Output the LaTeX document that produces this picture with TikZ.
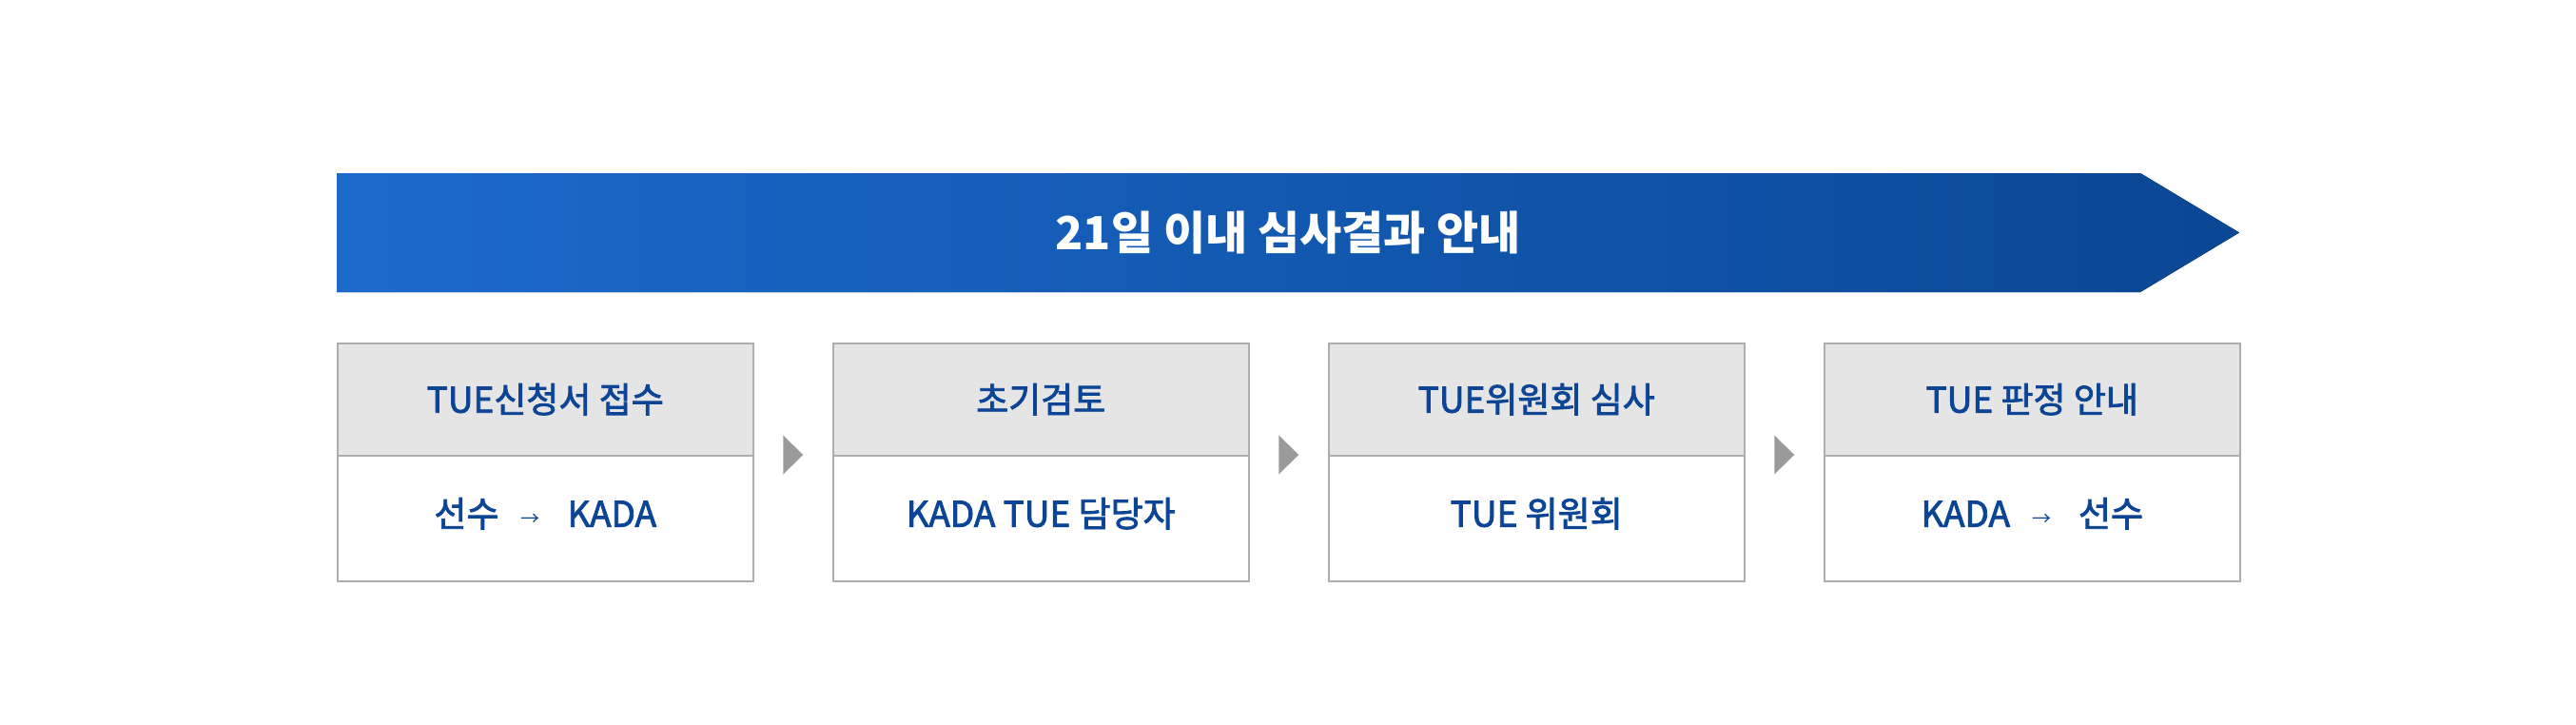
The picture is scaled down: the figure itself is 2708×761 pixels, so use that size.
\documentclass[tikz,border=0pt]{standalone}
\usepackage{fontspec}
\setmainfont{Noto Sans CJK KR}
\newfontfamily\boxfont{Noto Sans CJK KR}[FakeBold=2.2]
\newfontfamily\arrfont{Noto Sans CJK KR}
\usetikzlibrary{calc}
\definecolor{bannerL}{HTML}{1B6ACC}
\definecolor{bannerR}{HTML}{0A4795}
\definecolor{txtblue}{HTML}{0C4596}
\definecolor{headfill}{HTML}{E5E5E5}
\definecolor{boxline}{HTML}{AEAEAE}
\definecolor{tri}{HTML}{9A9A9A}
\tikzset{
  headbox/.style={draw=boxline, line width=1.5pt, fill=headfill, minimum width=437pt, minimum height=118pt, inner sep=0pt, anchor=north west},
  bodybox/.style={draw=boxline, line width=1.5pt, fill=white, minimum width=437pt, minimum height=132pt, inner sep=0pt, anchor=north west},
  boxtext/.style={text=txtblue, font=\boxfont\fontsize{37}{44}\selectfont, inner sep=0pt},
  titletext/.style={text=white, font=\fontsize{48}{56}\selectfont\bfseries, inner sep=0pt}
}
\newcommand{\arr}{\hspace{23pt}\raisebox{1pt}{\arrfont\fontsize{20}{24}\selectfont →}\hspace{29pt}}
\begin{document}
\begin{tikzpicture}[x=1pt,y=-1pt]
\useasboundingbox (0,0) rectangle (2708,761);
% banner
\fill[left color=bannerL, right color=bannerR] (354,182) -- (2250,182) -- (2354,244.5) -- (2250,307) -- (354,307) -- cycle;
\node[titletext] (title) at (1354,244.5) {21일 이내 심사결과 안내};
% boxes
\foreach \i/\h/\b in {0/{TUE신청서 접수}/{선수\arr KADA},
                      1/{초기검토}/{KADA TUE 담당자},
                      2/{TUE위원회 심사}/{TUE 위원회},
                      3/{TUE 판정 안내}/{KADA\arr 선수}}{
  \node[headbox] (h\i) at ({354+521*\i},360) {};
  \node[bodybox] (b\i) at ({354+521*\i},478) {};
  \node[boxtext] (ht\i) at (h\i.center) {\h};
  \node[boxtext] (bt\i) at ($(b\i.center)+(0,-5)$) {\b};
}
% gray triangles
\foreach \i/\j in {0/1,1/2,2/3}{
  \coordinate (m\i) at ($(b\i.north east)!0.5!(b\j.north west)$);
  \fill[tri] ($(m\i)+(-10.5,-20.5)$) -- ($(m\i)+(10.5,0)$) -- ($(m\i)+(-10.5,20.5)$) -- cycle;
}
\end{tikzpicture}
\end{document}
